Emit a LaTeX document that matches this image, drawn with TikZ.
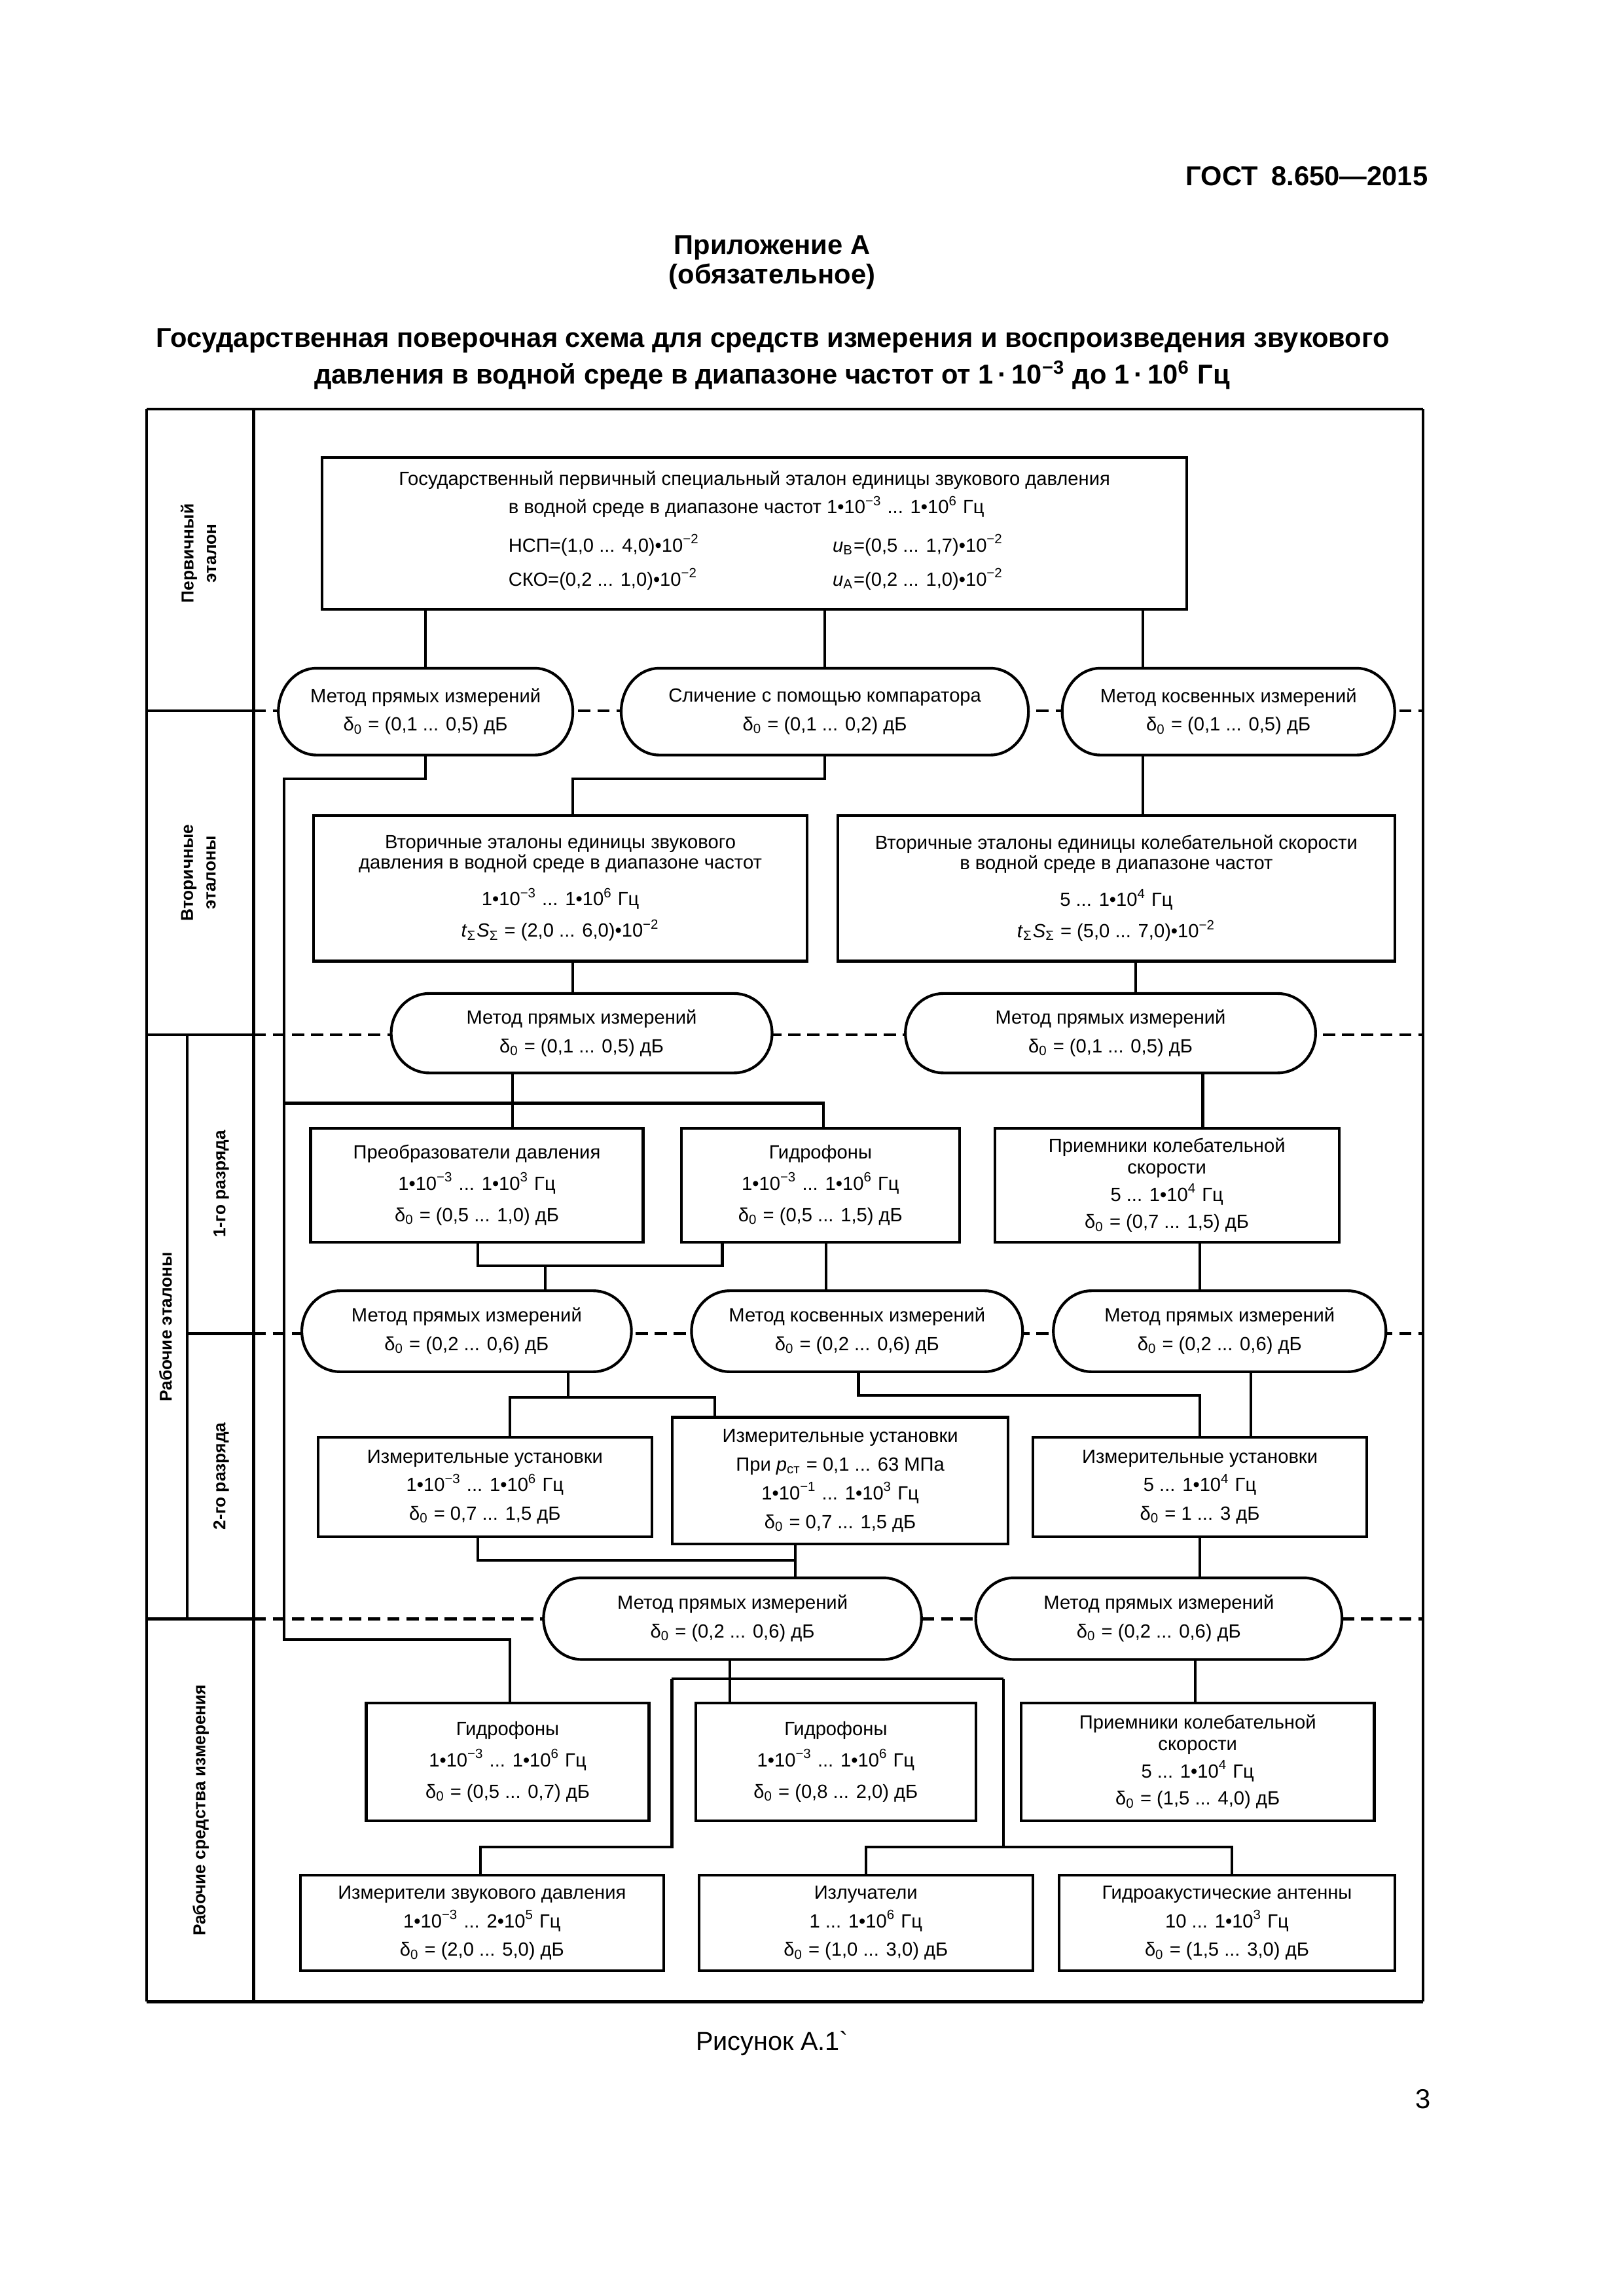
\documentclass[tikz,border=0pt]{standalone}
\usepackage{fontspec}
\setmainfont{Liberation Sans}
\newcommand\boxfont{\fontsize{7bp}{10.5bp}\selectfont}
\newcommand\lblfont{\bfseries\fontsize{6.3bp}{8.3bp}\selectfont}
\newcommand\headfont{\bfseries\fontsize{10bp}{12bp}\selectfont}
\newcommand\dz{δ\textsubscript{0}}
\newcommand\sps[1]{\textsuperscript{#1}}
\tikzset{
  bx/.style={draw, line width=1bp, fill=white, align=center, inner sep=0pt, font=\boxfont},
  stadline/.style={draw, line width=1bp, fill=white},
  stadtext/.style={align=center, inner sep=0pt, font=\boxfont},
  conn/.style={line width=1bp},
  dashline/.style={line width=1.1bp, dash pattern=on 4.5bp off 2.5bp},
  rulethick/.style={line width=1.1bp},
  framel/.style={line width=1bp},
  lbl/.style={font=\lblfont, rotate=90, align=center, inner sep=0pt},
  txt/.style={font=\boxfont, inner sep=0pt},
}
\newcommand\mkbox[6]{%
  \pgfmathsetmacro\mybw{(#4-#2)*0.53709}%
  \pgfmathsetmacro\mybh{(#5-#3)*0.53962}%
  \node[bx, minimum width=\mybw bp, minimum height=\mybh bp] (#1) at ({(#2+#4)/2},{(#3+#5)/2}) {#6};%
}
\newcommand\mkstad[6]{%
  \pgfmathsetmacro\mybw{(#4-#2)*0.53709}%
  \pgfmathsetmacro\mybh{(#5-#3)*0.53962}%
  \pgfmathsetmacro\myry{(#5-#3)*0.26981}%
  \draw[stadline] ({#2+26},#3) -- ({#4-26},#3)
     arc[start angle=90, end angle=-90, x radius=13.96bp, y radius=\myry bp]
     -- ({#2+26},#5)
     arc[start angle=270, end angle=90, x radius=13.96bp, y radius=\myry bp] -- cycle;%
  \node[stadtext, minimum width=\mybw bp, minimum height=\mybh bp] (#1) at ({(#2+#4)/2},{(#3+#5)/2}) {#6};%
}
\begin{document}
\begin{tikzpicture}[x=0.53709bp, y=-0.53962bp]
\useasboundingbox (0,0) rectangle (595.2bp,-841.8bp);
% ---------- headings
\node[anchor=base east, font=\headfont, inner sep=0pt] (gost) at (975,126) {ГОСТ\enskip 8.650—2015};
\node[anchor=base, font=\headfont, inner sep=0pt] (app) at (527,172.7) {Приложение А};
\node[anchor=base, font=\headfont, inner sep=0pt] (obl) at (527,192.7) {(обязательное)};
\node[anchor=base, font=\headfont, inner sep=0pt] (tit1) at (527.5,235.7) {Государственная поверочная схема для средств измерения и воспроизведения звукового};
\node[anchor=base, font=\headfont, inner sep=0pt] (tit2) at (527,261) {давления в водной среде в диапазоне частот от 1\,·\,10\sps{−3} до 1\,·\,10\sps{6} Гц};
\node[anchor=base, font=\fontsize{9.5bp}{11bp}\selectfont, inner sep=0pt] (cap) at (527,1392.8) {Рисунок А.1\textasciigrave};
\node[anchor=base east, font=\fontsize{10bp}{12bp}\selectfont, inner sep=0pt] (pg) at (977,1432.4) {3};
% ---------- frame
\draw[framel] (100,278) -- (100,1360);
\draw[framel] (971.5,278) -- (971.5,1360);
\draw[rulethick] (100,278) -- (971.5,278);
\draw[rulethick] (100,1360) -- (971.5,1360);
\draw[framel] (173.1,278) -- (173.1,1360);
\draw[framel] (127.7,703) -- (127.7,1100);
\draw[rulethick] (100,483) -- (173.1,483);
\draw[rulethick] (100,703) -- (173.1,703);
\draw[rulethick] (127.7,906) -- (173.1,906);
\draw[rulethick] (100,1100) -- (173.1,1100);
\draw[dashline] (173.1,483) -- (971.5,483);
\draw[dashline] (173.1,703) -- (971.5,703);
\draw[dashline] (173.1,906) -- (971.5,906);
\draw[dashline] (173.1,1100) -- (971.5,1100);
% ---------- labels
\node[lbl] (l1) at (135.5,376) {Первичный\\эталон};
\node[lbl] (l2) at (135.5,593) {Вторичные\\эталоны};
\node[lbl] (l3) at (113,901.5) {Рабочие эталоны};
\node[lbl] (l4) at (151,804.5) {1-го разряда};
\node[lbl] (l5) at (151,1003) {2-го разряда};
\node[lbl] (l6) at (137,1230) {Рабочие средства измерения};
% ---------- primary
\mkbox{prim}{220}{311}{810}{414}{}
\node[txt, anchor=base] (pt1) at (515,329.8) {Государственный первичный специальный эталон единицы звукового давления};
\node[txt, anchor=base west] (pt2) at (346.7,349) {в водной среде в диапазоне частот 1•10\sps{−3} ... 1•10\sps{6} Гц};
\node[txt, anchor=base west] (pt3) at (346.7,375) {НСП=(1,0 ... 4,0)•10\sps{−2}};
\node[txt, anchor=base west] (pt4) at (568,375) {\textit{u}\textsubscript{B}=(0,5 ... 1,7)•10\sps{−2}};
\node[txt, anchor=base west] (pt5) at (346.7,398) {СКО=(0,2 ... 1,0)•10\sps{−2}};
\node[txt, anchor=base west] (pt6) at (568,398) {\textit{u}\textsubscript{A}=(0,2 ... 1,0)•10\sps{−2}};
% ---------- row 1
\mkstad{m1a}{190}{454}{391}{513}{Метод прямых измерений\\\dz{} = (0,1 ... 0,5) дБ}
\mkstad{m1b}{424}{454}{702}{513}{Сличение с помощью компаратора\\\dz{} = (0,1 ... 0,2) дБ}
\mkstad{m1c}{725}{454}{952}{513}{Метод косвенных измерений\\\dz{} = (0,1 ... 0,5) дБ}
% ---------- secondary
\mkbox{s1}{214}{554}{551}{653}{Вторичные эталоны единицы звукового\\[-3bp]давления в водной среде в диапазоне частот\\[3bp]1•10\sps{−3} ... 1•10\sps{6} Гц\\[1bp]\textit{t}\textsubscript{Σ}\textit{S}\textsubscript{Σ} = (2,0 ... 6,0)•10\sps{−2}}
\mkbox{s2}{572}{554}{952}{653}{Вторичные эталоны единицы колебательной скорости\\[-3bp]в водной среде в диапазоне частот\\[3bp]5 ... 1•10\sps{4} Гц\\[1bp]\textit{t}\textsubscript{Σ}\textit{S}\textsubscript{Σ} = (5,0 ... 7,0)•10\sps{−2}}
% ---------- row 2
\mkstad{m2a}{267}{675}{527}{729}{Метод прямых измерений\\\dz{} = (0,1 ... 0,5) дБ}
\mkstad{m2b}{618}{675}{898}{729}{Метод прямых измерений\\\dz{} = (0,1 ... 0,5) дБ}
% ---------- row 3
\mkbox{r3a}{212}{766.5}{439}{844}{Преобразователи давления\\[1bp]1•10\sps{−3} ... 1•10\sps{3} Гц\\[1bp]\dz{} = (0,5 ... 1,0) дБ}
\mkbox{r3b}{465}{766.5}{655}{844}{Гидрофоны\\[1bp]1•10\sps{−3} ... 1•10\sps{6} Гц\\[1bp]\dz{} = (0,5 ... 1,5) дБ}
\mkbox{r3c}{679}{766.5}{914}{844}{Приемники колебательной\\[-2.5bp]скорости\\[-0.5bp]5 ... 1•10\sps{4} Гц\\[-0.5bp]\dz{} = (0,7 ... 1,5) дБ}
\mkstad{m3a}{206}{877}{431}{932}{Метод прямых измерений\\\dz{} = (0,2 ... 0,6) дБ}
\mkstad{m3b}{472}{877}{698}{932}{Метод косвенных измерений\\\dz{} = (0,2 ... 0,6) дБ}
\mkstad{m3c}{719}{877}{946}{932}{Метод прямых измерений\\\dz{} = (0,2 ... 0,6) дБ}
% ---------- row 4
\mkbox{r4a}{217}{976.5}{445}{1044}{Измерительные установки\\1•10\sps{−3} ... 1•10\sps{6} Гц\\\dz{} = 0,7 ... 1,5 дБ}
\mkbox{r4b}{459}{963}{688}{1049}{Измерительные установки\\При \textit{p}\textsubscript{ст} = 0,1 ... 63 МПа\\1•10\sps{−1} ... 1•10\sps{3} Гц\\\dz{} = 0,7 ... 1,5 дБ}
\mkbox{r4c}{705}{976.5}{933}{1044}{Измерительные установки\\5 ... 1•10\sps{4} Гц\\\dz{} = 1 ... 3 дБ}
% ---------- row 5
\mkstad{m5a}{371}{1072}{629}{1127.5}{Метод прямых измерений\\\dz{} = (0,2 ... 0,6) дБ}
\mkstad{m5b}{666}{1072}{916}{1127.5}{Метод прямых измерений\\\dz{} = (0,2 ... 0,6) дБ}
% ---------- row 6
\mkbox{r6a}{250}{1157}{443}{1237}{Гидрофоны\\[1bp]1•10\sps{−3} ... 1•10\sps{6} Гц\\[1bp]\dz{} = (0,5 ... 0,7) дБ}
\mkbox{r6b}{475}{1157}{666}{1237}{Гидрофоны\\[1bp]1•10\sps{−3} ... 1•10\sps{6} Гц\\[1bp]\dz{} = (0,8 ... 2,0) дБ}
\mkbox{r6c}{697}{1157}{938}{1237}{Приемники колебательной\\[-2.5bp]скорости\\[-0.5bp]5 ... 1•10\sps{4} Гц\\[-0.5bp]\dz{} = (1,5 ... 4,0) дБ}
% ---------- row 7
\mkbox{r7a}{205}{1274}{453}{1339}{Измерители звукового давления\\1•10\sps{−3} ... 2•10\sps{5} Гц\\\dz{} = (2,0 ... 5,0) дБ}
\mkbox{r7b}{477}{1274}{705}{1339}{Излучатели\\1 ... 1•10\sps{6} Гц\\\dz{} = (1,0 ... 3,0) дБ}
\mkbox{r7c}{723}{1274}{952}{1339}{Гидроакустические антенны\\10 ... 1•10\sps{3} Гц\\\dz{} = (1,5 ... 3,0) дБ}
% ---------- junction coordinates
\coordinate (x780) at (780,0);
\coordinate (x391) at (391,0);
\coordinate (x775) at (775,0);
\coordinate (x350) at (350,0);
\coordinate (x821) at (821,0);
\coordinate (x372) at (372,0);
\coordinate (x564) at (564,0);
\coordinate (x819) at (819,0);
\coordinate (x388) at (388,0);
\coordinate (x854) at (854,0);
\coordinate (x498) at (498,0);
\coordinate (x816) at (816,0);
\coordinate (ja) at (194,529);
\coordinate (jb) at (348,1114);
\coordinate (jc) at (391,529);
\coordinate (jd) at (194,749.5);
\coordinate (je) at (562,749.5);
\coordinate (jf) at (326,860);
\coordinate (jg) at (493,860);
\coordinate (jh) at (348,949.5);
\coordinate (ji) at (488,949.5);
\coordinate (jj) at (586,948);
\coordinate (jk) at (819,948);
\coordinate (jl) at (326,1060);
\coordinate (jm) at (543,1060);
\coordinate (jn) at (458.6,1140.6);
\coordinate (jo) at (685,1140.6);
\coordinate (jp) at (458.6,1255);
\coordinate (jq) at (328,1255);
\coordinate (jr) at (685,1255);
\coordinate (js) at (591,1255);
\coordinate (jt) at (841,1255);
% ---------- connectors
\draw[conn] (prim.south -| m1a.north) -- (m1a.north);
\draw[conn] (prim.south -| m1b.north) -- (m1b.north);
\draw[conn] (prim.south -| x780) -- (m1c.north -| x780);
\draw[conn] (m1a.south) |- (ja) -- (ja |- jb) -- (jb) -- (r6a.north -| jb);
\draw[conn] (m1b.south) |- (jc) -- (s1.north -| jc);
\draw[conn] (m1c.south -| x780) -- (s2.north -| x780);
\draw[conn] (s1.south -| x391) -- (m2a.north -| x391);
\draw[conn] (s2.south -| x775) -- (m2b.north -| x775);
\draw[conn] (m2a.south -| x350) -- (r3a.north -| x350);
\draw[conn] (jd) -- (je) -- (r3b.north -| je);
\draw[conn] (m2b.south -| x821) -- (r3c.north -| x821);
\draw[conn] (r3a.south -| jf) -- (jf) -- (jg) -- (r3b.south -| jg);
\draw[conn] (jf -| x372) -- (m3a.north -| x372);
\draw[conn] (r3b.south -| x564) -- (m3b.north -| x564);
\draw[conn] (r3c.south -| x819) -- (m3c.north -| x819);
\draw[conn] (m3a.south -| x388) -- (jh -| x388);
\draw[conn] (r4a.north -| jh) -- (jh) -- (ji) -- (r4b.north -| ji);
\draw[conn] (m3b.south -| jj) -- (jj) -- (jk) -- (r4c.north -| jk);
\draw[conn] (m3c.south -| x854) -- (r4c.north -| x854);
\draw[conn] (r4a.south -| jl) -- (jl) -- (jm);
\draw[conn] (r4b.south -| jm) -- (m5a.north -| jm);
\draw[conn] (r4c.south -| x819) -- (m5b.north -| x819);
\draw[conn] (m5a.south -| x498) -- (r6b.north -| x498);
\draw[conn] (jn) -- (jo);
\draw[conn] (jn) -- (jp) -- (jq) -- (r7a.north -| jq);
\draw[conn] (jo) -- (jr);
\draw[conn] (r7b.north -| js) -- (js) -- (jt) -- (r7c.north -| jt);
\draw[conn] (m5b.south -| x816) -- (r6c.north -| x816);
\end{tikzpicture}
\end{document}
